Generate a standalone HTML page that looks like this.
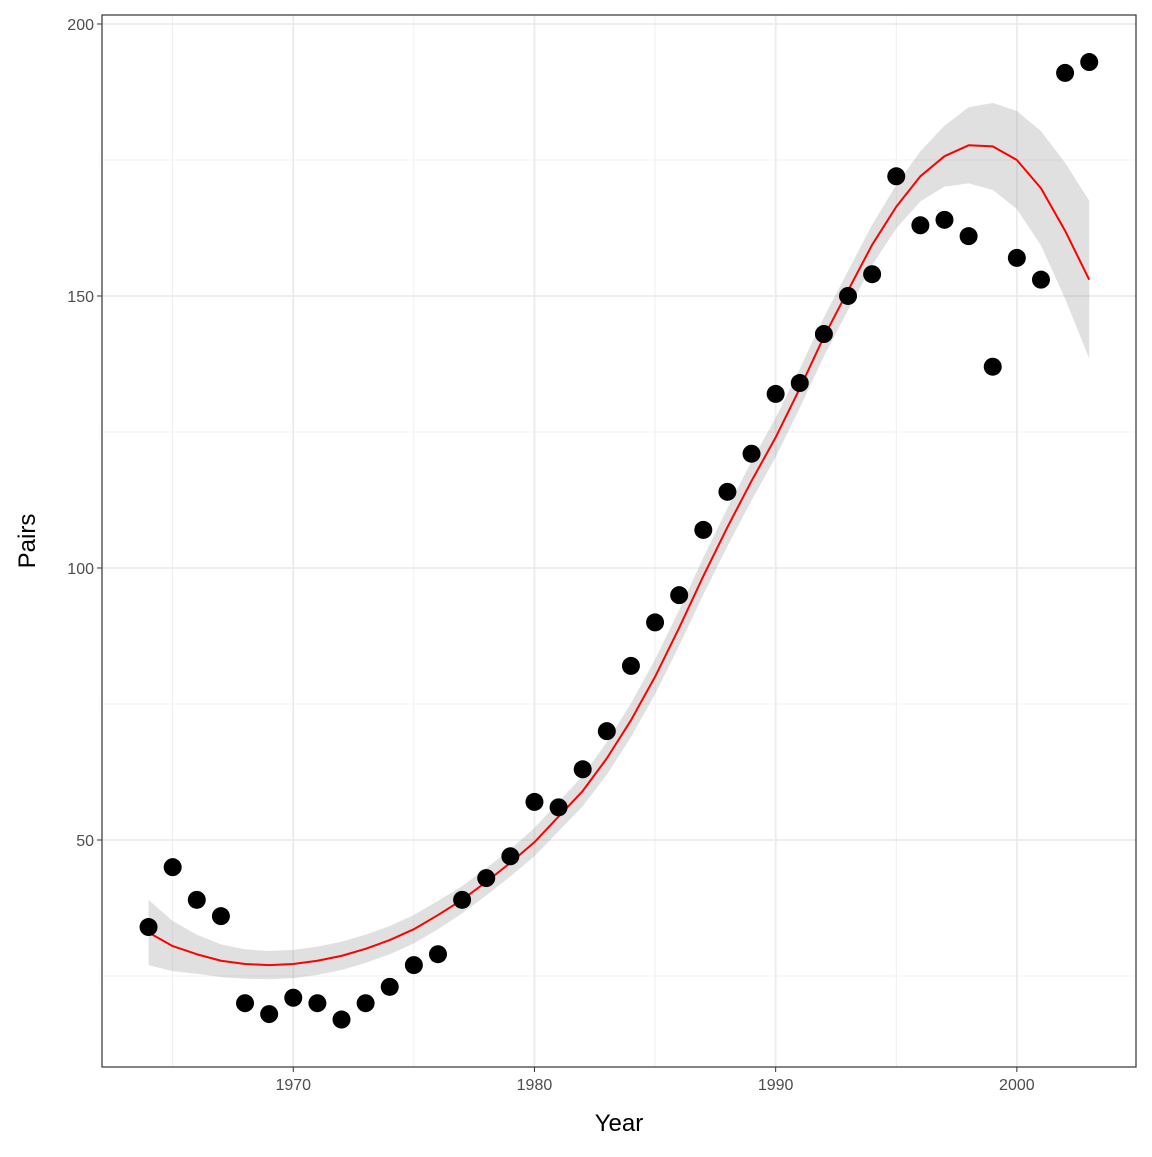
<!DOCTYPE html>
<html><head><meta charset="utf-8"><style>
body{margin:0;background:#fff}
svg text{font-family:"Liberation Sans",Arial,sans-serif}
</style></head><body>
<svg id="c" width="1152" height="1152" xmlns="http://www.w3.org/2000/svg"></svg>
<script>
const years=[1964,1965,1966,1967,1968,1969,1970,1971,1972,1973,1974,1975,1976,1977,1978,1979,1980,1981,1982,1983,1984,1985,1986,1987,1988,1989,1990,1991,1992,1993,1994,1995,1996,1997,1998,1999,2000,2001,2002,2003];
const pairs=[34,45,39,36,20,18,21,20,17,20,23,27,29,39,43,47,57,56,63,70,82,90,95,107,114,121,132,134,143,150,154,172,163,164,161,137,157,153,191,193];
const fitValues=[33,30.5,29,27.8,27.2,27,27.2,27.8,28.7,30,31.6,33.6,36.2,39,42.3,45.8,49.6,54.3,59,65,72,80,89,98.5,107.5,116,124,133,142.5,151,159.4,166.4,172,175.7,177.7,177.5,175,169.8,162,153];
const bandHalf=[6,4.6,3.6,3,2.7,2.6,2.6,2.6,2.6,2.6,2.6,2.6,2.6,2.5,2.5,2.5,2.6,2.7,2.8,3,3.1,3.2,3.3,3.4,3.5,3.6,3.6,3.6,3.6,3.6,3.7,4,4.6,5.6,7,8,9,10.5,12.5,14.5];
const xTicks=[1970,1980,1990,2000];
const xMinor=[1965,1975,1985,1995];
const yTicks=[50,100,150,200];
const yMinor=[25,75,125,175];
const L=102,T=15,R=1136,B=1067;
const xmin=1962.07,xmax=2004.94,ymin=8.27,ymax=201.65;
const X=v=>L+(v-xmin)/(xmax-xmin)*(R-L);
const Y=v=>B-(v-ymin)/(ymax-ymin)*(B-T);
const svg=document.getElementById('c');
const NS='http://www.w3.org/2000/svg';
function mk(t,a,p){const e=document.createElementNS(NS,t);for(const k in a)e.setAttribute(k,a[k]);(p||svg).appendChild(e);return e;}
mk('rect',{x:L,y:T,width:R-L,height:B-T,fill:'#fff'});
xMinor.forEach(v=>{const e=mk('line',{x1:X(v),x2:X(v),y1:T,y2:B,stroke:'#ebebeb','stroke-width':0.8});

});
yMinor.forEach(v=>{const e=mk('line',{x1:L,x2:R,y1:Y(v),y2:Y(v),stroke:'#ebebeb','stroke-width':0.8});

});
xTicks.forEach(v=>{const e=mk('line',{x1:X(v),x2:X(v),y1:T,y2:B,stroke:'#ebebeb','stroke-width':1.8});


mk('line',{x1:X(v),x2:X(v),y1:B,y2:B+5,stroke:'#333','stroke-width':1});
const t=mk('text',{x:X(v),y:B+23,'text-anchor':'middle','font-size':16,fill:'#4d4d4d'});t.textContent=v;

});
yTicks.forEach(v=>{const e=mk('line',{x1:L,x2:R,y1:Y(v),y2:Y(v),stroke:'#ebebeb','stroke-width':1.8});


mk('line',{x1:L-5,x2:L,y1:Y(v),y2:Y(v),stroke:'#333','stroke-width':1});
const t=mk('text',{x:L-8,y:Y(v)+6,'text-anchor':'end','font-size':16,fill:'#4d4d4d'});t.textContent=v;

});
const up=years.map((yr,i)=>X(yr)+','+Y(fitValues[i]+bandHalf[i]));
const lo=years.map((yr,i)=>X(yr)+','+Y(fitValues[i]-bandHalf[i])).reverse();
const band=mk('polygon',{points:up.concat(lo).join(' '),fill:'#999',opacity:0.3});


const line=mk('polyline',{points:years.map((yr,i)=>X(yr)+','+Y(fitValues[i])).join(' '),fill:'none',stroke:'#ff0000','stroke-width':2,'stroke-linejoin':'round'});


years.forEach((yr,i)=>{const c=mk('circle',{cx:X(yr),cy:Y(pairs[i]),r:9,fill:'#000'});

});
const fr=mk('rect',{x:L,y:T,width:R-L,height:B-T,fill:'none',stroke:'#333','stroke-width':1.2});


const xt=mk('text',{x:(L+R)/2,y:1131,'text-anchor':'middle','font-size':24,fill:'#000'});xt.textContent='Year';


const yt=mk('text',{x:0,y:0,'text-anchor':'middle','font-size':24,fill:'#000',transform:`translate(35,${(T+B)/2}) rotate(-90)`});yt.textContent='Pairs';


</script>
</body></html>
